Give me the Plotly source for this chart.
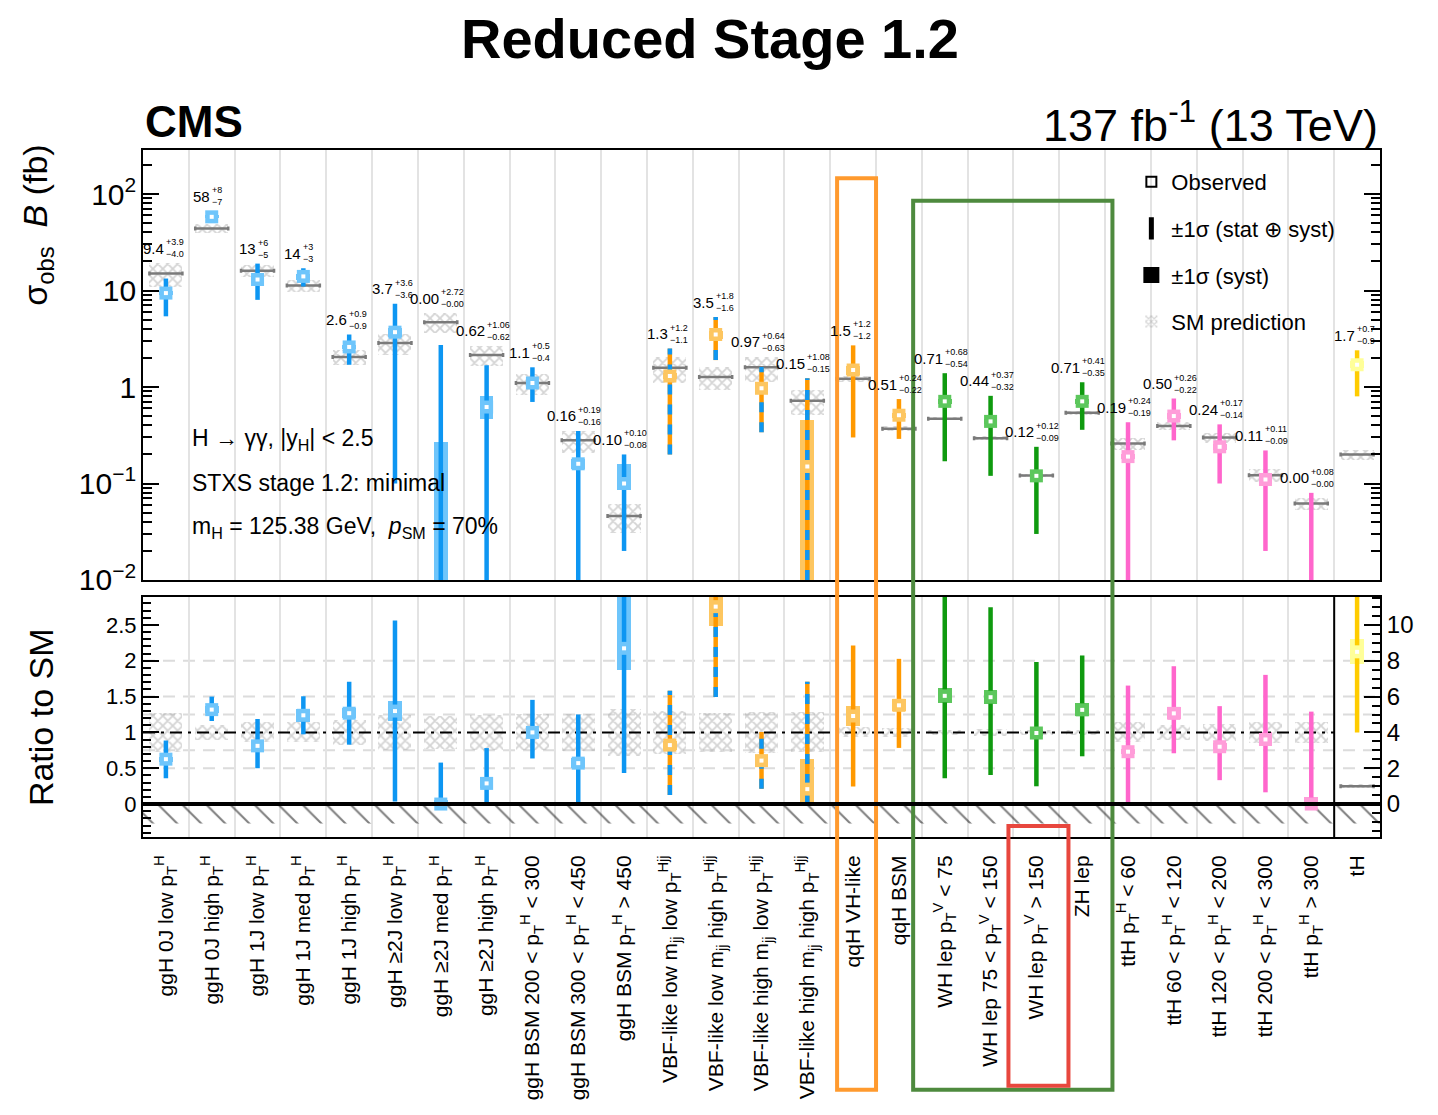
import numpy as np
import plotly.graph_objects as go

# ---------------------------------------------------------------- data
categories = [
    "ggH 0J low p<sub>T</sub><sup>H</sup>",
    "ggH 0J high p<sub>T</sub><sup>H</sup>",
    "ggH 1J low p<sub>T</sub><sup>H</sup>",
    "ggH 1J med p<sub>T</sub><sup>H</sup>",
    "ggH 1J high p<sub>T</sub><sup>H</sup>",
    "ggH ≥2J low p<sub>T</sub><sup>H</sup>",
    "ggH ≥2J med p<sub>T</sub><sup>H</sup>",
    "ggH ≥2J high p<sub>T</sub><sup>H</sup>",
    "ggH BSM 200 < p<sub>T</sub><sup>H</sup> < 300",
    "ggH BSM 300 < p<sub>T</sub><sup>H</sup> < 450",
    "ggH BSM p<sub>T</sub><sup>H</sup> > 450",
    "VBF-like low m<sub>jj</sub> low p<sub>T</sub><sup>Hjj</sup>",
    "VBF-like low m<sub>jj</sub> high p<sub>T</sub><sup>Hjj</sup>",
    "VBF-like high m<sub>jj</sub> low p<sub>T</sub><sup>Hjj</sup>",
    "VBF-like high m<sub>jj</sub> high p<sub>T</sub><sup>Hjj</sup>",
    "qqH VH-like",
    "qqH BSM",
    "WH lep p<sub>T</sub><sup>V</sup> < 75",
    "WH lep 75 < p<sub>T</sub><sup>V</sup> < 150",
    "WH lep p<sub>T</sub><sup>V</sup> > 150",
    "ZH lep",
    "ttH p<sub>T</sub><sup>H</sup> < 60",
    "ttH 60 < p<sub>T</sub><sup>H</sup> < 120",
    "ttH 120 < p<sub>T</sub><sup>H</sup> < 200",
    "ttH 200 < p<sub>T</sub><sup>H</sup> < 300",
    "ttH p<sub>T</sub><sup>H</sup> > 300",
    "tH",
]
process = ["ggH", "ggH", "ggH", "ggH", "ggH", "ggH", "ggH", "ggH", "ggH", "ggH", "ggH",
           "VBF", "VBF", "VBF", "VBF",
           "qqH", "qqH",
           "VH", "VH", "VH", "VH",
           "ttH", "ttH", "ttH", "ttH", "ttH",
           "tH"]

# observed sigma x B (fb) with total uncertainties, as quoted on the plot
obs_str = ["9.4", "58", "13", "14", "2.6", "3.7", "0.00", "0.62", "1.1", "0.16", "0.10",
           "1.3", "3.5", "0.97", "0.15", "1.5", "0.51", "0.71", "0.44", "0.12", "0.71",
           "0.19", "0.50", "0.24", "0.11", "0.00", "1.7"]
up_str = ["3.9", "8", "6", "3", "0.9", "3.6", "2.72", "1.06", "0.5", "0.19", "0.10",
          "1.2", "1.8", "0.64", "1.08", "1.2", "0.24", "0.68", "0.37", "0.12", "0.41",
          "0.24", "0.26", "0.17", "0.11", "0.08", "0.7"]
dn_str = ["4.0", "7", "5", "3", "0.9", "3.6", "0.00", "0.62", "0.4", "0.16", "0.08",
          "1.1", "1.6", "0.63", "0.15", "1.2", "0.22", "0.54", "0.32", "0.09", "0.35",
          "0.19", "0.22", "0.14", "0.09", "0.00", "0.9"]

# systematic component (fb)
syst_up = [0.5, 2.0, 1.0, 1.0, 0.15, 0.4, 0.27, 0.19, 0.05, 0.02, 0.06,
           0.1, 0.35, 0.08, 0.3, 0.17, 0.03, 0.05, 0.03, 0.005, 0.05,
           0.01, 0.033, 0.015, 0.012, 0.006, 0.14]
syst_dn = [0.5, 2.0, 1.0, 1.0, 0.15, 0.4, 0.0, 0.15, 0.05, 0.02, 0.014,
           0.1, 0.35, 0.08, 0.15, 0.17, 0.03, 0.05, 0.03, 0.005, 0.05,
           0.01, 0.033, 0.015, 0.012, 0.0, 0.14]

# SM prediction (fb) and its relative theory uncertainty
sm_pred = [15.0, 44.0, 16.0, 11.3, 2.05, 2.85, 4.7, 2.15, 1.1, 0.28, 0.046,
           1.58, 1.27, 1.6, 0.72, 1.22, 0.37, 0.47, 0.295, 0.121, 0.54,
           0.26, 0.395, 0.30, 0.122, 0.062, 0.20]
sm_rel_unc = [0.27, 0.10, 0.14, 0.14, 0.17, 0.24, 0.23, 0.24, 0.25, 0.26, 0.33,
              0.30, 0.27, 0.29, 0.28, 0.07, 0.06, 0.04, 0.05, 0.04, 0.04,
              0.14, 0.10, 0.12, 0.15, 0.15, 0.12]

# ---------------------------------------------------------------- derived
obs = np.array([float(s) for s in obs_str])
err_up = np.array([float(s) for s in up_str])
err_dn = np.array([float(s) for s in dn_str])
s_up = np.array(syst_up)
s_dn = np.array(syst_dn)
sm = np.array(sm_pred)
smu = np.array(sm_rel_unc)
n = len(categories)
xs = np.arange(n)

# ---------------------------------------------------------------- style
FONT = "Liberation Sans, Arial, Helvetica, sans-serif"
LOG_RANGE = [-2.0, 2.456]
RATIO_RANGE = [-0.46, 2.89]
TH_SCALE = 4.0          # tH ratio uses a 4x wider right-hand scale
FLOOR = 10 ** LOG_RANGE[0]
HATCH_DEPTH = 0.27

COLORS = {
    "ggH": ("#0d96f2", "#6ec5fb"),
    "VBF": ("#ff9900", "#fdc660"),
    "qqH": ("#ff9900", "#fdc660"),
    "VH": ("#0f9a0f", "#5cc75c"),
    "ttH": ("#ff66cc", "#ff9dd9"),
    "tH": ("#ffcc00", "#ffff99"),
}
VBF_DASH_COLOR = "#0d96f2"
SM_LINE = "#7a7a7a"
SM_HATCH = "#a9a9a9"
SM_PATTERN = dict(shape="x", fgcolor=SM_HATCH, size=7, solidity=0.45, fillmode="overlay")

fig = go.Figure()


def sm_boxes(idx, lo, hi, xa, ya):
    fig.add_trace(go.Bar(
        x=idx, y=hi - lo, base=lo, width=0.72, xaxis=xa, yaxis=ya,
        marker=dict(color="rgba(0,0,0,0)", line=dict(width=0), pattern=SM_PATTERN),
        showlegend=False, hoverinfo="skip"))


def sm_lines(idx, yv, xa, ya):
    fig.add_trace(go.Scatter(
        x=idx, y=yv, mode="markers", xaxis=xa, yaxis=ya,
        marker=dict(size=1, color="rgba(0,0,0,0)"),
        error_x=dict(type="constant", value=0.36, thickness=2.5, width=2, color=SM_LINE),
        showlegend=False, hoverinfo="skip"))


def points(idx, yv, lo, hi, slo, shi, xa, ya):
    idx = np.asarray(idx)
    light = [COLORS[process[i]][1] for i in idx]
    # systematic boxes
    fig.add_trace(go.Bar(
        x=idx, y=np.maximum(shi - slo, 0), base=slo, width=0.3, xaxis=xa, yaxis=ya,
        marker=dict(color=light, line=dict(width=0)),
        showlegend=False, hoverinfo="skip"))
    # total uncertainty lines, grouped by colour
    for proc in ["ggH", "VBF", "qqH", "VH", "ttH", "tH"]:
        sel = [k for k, i in enumerate(idx) if process[i] == proc]
        if not sel:
            continue
        lx, ly = [], []
        for k in sel:
            lx += [idx[k], idx[k], None]
            ly += [lo[k], hi[k], None]
        fig.add_trace(go.Scatter(
            x=lx, y=ly, mode="lines", xaxis=xa, yaxis=ya,
            line=dict(color=COLORS[proc][0], width=4.5),
            showlegend=False, hoverinfo="skip"))
        if proc == "VBF":
            fig.add_trace(go.Scatter(
                x=lx, y=ly, mode="lines", xaxis=xa, yaxis=ya,
                line=dict(color=VBF_DASH_COLOR, width=4.5, dash="10px,10px"),
                showlegend=False, hoverinfo="skip"))
    # observed markers
    fig.add_trace(go.Scatter(
        x=idx, y=yv, mode="markers", xaxis=xa, yaxis=ya,
        marker=dict(symbol="square", size=13, color=light, line=dict(width=0)),
        showlegend=False, hoverinfo="skip"))
    fig.add_trace(go.Scatter(
        x=idx, y=yv, mode="markers", xaxis=xa, yaxis=ya,
        marker=dict(symbol="square", size=4, color="white", line=dict(width=0)),
        showlegend=False, hoverinfo="skip"))


# ---------------------------------------------------------------- top panel
sm_boxes(xs, sm * (1 - smu), sm * (1 + smu), "x", "y")
sm_lines(xs, sm, "x", "y")
top_lo = np.maximum(obs - err_dn, FLOOR)
top_hi = obs + err_up
syst_lo = np.maximum(obs - s_dn, FLOOR)
syst_hi = np.maximum(obs + s_up, FLOOR)
points(xs, obs, top_lo, top_hi, syst_lo, syst_hi, "x", "y")

# ---------------------------------------------------------------- ratio panel
ratio = obs / sm
r_lo = (obs - err_dn) / sm
r_hi = (obs + err_up) / sm
rs_lo = (obs - s_dn) / sm
rs_hi = (obs + s_up) / sm
main = np.array([i for i in xs if process[i] != "tH"])
th = np.array([i for i in xs if process[i] == "tH"])

# hatched unphysical region below zero
fig.add_trace(go.Scatter(
    x=[-0.5, n - 0.5, n - 0.5, -0.5, -0.5], y=[0, 0, -HATCH_DEPTH, -HATCH_DEPTH, 0],
    mode="lines", fill="toself", line=dict(width=0), xaxis="x2", yaxis="y2",
    fillcolor="rgba(0,0,0,0)",
    fillpattern=dict(shape="\\", fgcolor="black", bgcolor="rgba(0,0,0,0)", size=17,
                     solidity=0.12, fillmode="overlay"),
    showlegend=False, hoverinfo="skip"))

sm_boxes(main, 1 - smu[main], 1 + smu[main], "x2", "y2")
fig.add_trace(go.Scatter(
    x=[-0.5, main[-1] + 0.5], y=[1, 1], mode="lines", xaxis="x2", yaxis="y2",
    line=dict(color="black", width=2, dash="12px,6px,3px,6px"),
    showlegend=False, hoverinfo="skip"))
points(main, ratio[main], r_lo[main], r_hi[main], rs_lo[main], rs_hi[main], "x2", "y2")

sm_boxes(th, 1 - smu[th], 1 + smu[th], "x2", "y3")
sm_lines(th, np.ones(len(th)), "x2", "y3")
points(th, ratio[th], r_lo[th], r_hi[th], rs_lo[th], rs_hi[th], "x2", "y3")

# ---------------------------------------------------------------- legend entries
fig.add_trace(go.Scatter(x=[None], y=[None], mode="markers", name="Observed",
                         legendgroup="a", legendrank=1,
                         marker=dict(symbol="square-open", size=10, color="black",
                                     line=dict(width=2, color="black"))))
fig.add_trace(go.Scatter(x=[None], y=[None], mode="markers", name="±1σ (stat ⊕ syst)",
                         legendgroup="b", legendrank=2,
                         marker=dict(symbol="line-ns", size=30, color="black",
                                     line=dict(width=5, color="black"))))
fig.add_trace(go.Scatter(x=[None], y=[None], mode="markers", name="±1σ (syst)",
                         legendgroup="c", legendrank=3,
                         marker=dict(symbol="square", size=22, color="black")))
fig.add_trace(go.Bar(x=[None], y=[None], name="SM prediction",
                     legendgroup="d", legendrank=4,
                     marker=dict(color="rgba(0,0,0,0)", line=dict(width=0),
                                 pattern=dict(shape="x", fgcolor=SM_HATCH, size=5,
                                              solidity=0.5, fillmode="overlay"))))

# ---------------------------------------------------------------- value labels
ann = []
for i in xs:
    top = max(obs[i] + err_up[i], sm[i] * (1 + smu[i]))
    yl = np.log10(top)
    ann.append(dict(x=i, y=yl, xref="x", yref="y", text=obs_str[i], showarrow=False,
                    xanchor="right", yanchor="middle", yshift=15,
                    font=dict(size=15, color="black", family=FONT)))
    ann.append(dict(x=i, y=yl, xref="x", yref="y", text="+" + up_str[i], showarrow=False,
                    xanchor="left", yanchor="middle", yshift=21, xshift=-2,
                    font=dict(size=9, color="black", family=FONT)))
    ann.append(dict(x=i, y=yl, xref="x", yref="y", text="−" + dn_str[i], showarrow=False,
                    xanchor="left", yanchor="middle", yshift=9, xshift=-2,
                    font=dict(size=9, color="black", family=FONT)))

# ---------------------------------------------------------------- text
ann += [
    dict(x=0.458, y=1.163, xref="paper", yref="paper", text="<b>Reduced Stage 1.2</b>",
         showarrow=False, xanchor="center", yanchor="middle",
         font=dict(size=56, color="black", family=FONT)),
    dict(x=0.0, y=1.041, xref="paper", yref="paper", text="<b>CMS</b>",
         showarrow=False, xanchor="left", yanchor="middle",
         font=dict(size=44, color="black", family=FONT)),
    dict(x=1.0, y=1.041, xref="paper", yref="paper", text="137 fb<sup>-1</sup> (13 TeV)",
         showarrow=False, xanchor="right", yanchor="middle",
         font=dict(size=45, color="black", family=FONT)),
    dict(x=-0.085, y=0.891, xref="paper", yref="paper",
         text="σ<sub>obs</sub>  <i>B</i> (fb)", textangle=-90,
         showarrow=False, xanchor="center", yanchor="middle",
         font=dict(size=34, color="black", family=FONT)),
    dict(x=-0.083, y=0.175, xref="paper", yref="paper", text="Ratio to SM", textangle=-90,
         showarrow=False, xanchor="center", yanchor="middle",
         font=dict(size=34, color="black", family=FONT)),
    dict(x=0.038, y=0.578, xref="paper", yref="paper",
         text="H → γγ, |y<sub>H</sub>| < 2.5",
         showarrow=False, xanchor="left", yanchor="middle",
         font=dict(size=23, color="black", family=FONT)),
    dict(x=0.038, y=0.515, xref="paper", yref="paper", text="STXS stage 1.2: minimal",
         showarrow=False, xanchor="left", yanchor="middle",
         font=dict(size=23, color="black", family=FONT)),
    dict(x=0.038, y=0.451, xref="paper", yref="paper",
         text="m<sub>H</sub> = 125.38 GeV,  <i>p</i><sub>SM</sub> = 70%",
         showarrow=False, xanchor="left", yanchor="middle",
         font=dict(size=23, color="black", family=FONT)),
]

# ---------------------------------------------------------------- highlight frames
i_vh = categories.index("qqH VH-like")
i_wh0 = categories.index("WH lep p<sub>T</sub><sup>V</sup> < 75")
i_zh = categories.index("ZH lep")
i_wh2 = categories.index("WH lep p<sub>T</sub><sup>V</sup> > 150")
shapes = [
    dict(type="rect", xref="x", yref="paper", x0=i_vh - 0.35, x1=i_vh + 0.5,
         y0=-0.368, y1=0.959, line=dict(color="#ff9a2e", width=4), layer="above"),
    dict(type="rect", xref="x", yref="paper", x0=i_wh0 - 0.69, x1=i_zh + 0.66,
         y0=-0.368, y1=0.926, line=dict(color="#4e8a3e", width=4), layer="above"),
    dict(type="rect", xref="x", yref="paper", x0=i_wh2 - 0.61, x1=i_wh2 + 0.7,
         y0=-0.362, y1=0.016, line=dict(color="#e8473e", width=4), layer="above"),
    # zero line of the ratio panel
    dict(type="line", xref="x2 domain", yref="y2", x0=0, x1=1, y0=0, y1=0,
         line=dict(color="black", width=4), layer="above"),
    # separator for the tH ratio scale
    dict(type="line", xref="x2", yref="y2 domain", x0=th[0] - 0.5, x1=th[0] - 0.5,
         y0=0, y1=1, line=dict(color="black", width=2), layer="above"),
]
for g in [0.5, 0.75, 1.25, 1.5, 2.0]:
    shapes.append(dict(type="line", xref="x2 domain", yref="y2", x0=0, x1=1, y0=g, y1=g,
                       line=dict(color="#dcdcdc", width=2, dash="12px,8px"), layer="below"))

# ---------------------------------------------------------------- layout
xgrid = dict(tickmode="array", tickvals=[k + 0.5 for k in range(n - 1)], showgrid=True,
             gridcolor="#e3e3e3", gridwidth=2, ticks="")
fig.update_layout(
    width=1438, height=1115,
    margin=dict(l=143, r=58, t=150, b=278, autoexpand=False),
    paper_bgcolor="white", plot_bgcolor="white",
    font=dict(family=FONT, color="black"),
    barmode="overlay", bargap=0,
    showlegend=True,
    legend=dict(x=0.799, y=0.984, xanchor="left", yanchor="top",
                font=dict(size=22, family=FONT, color="black"),
                bgcolor="rgba(0,0,0,0)", tracegroupgap=15, traceorder="grouped",
                itemwidth=30),
    annotations=ann,
    shapes=shapes,
    xaxis=dict(domain=[0, 1], anchor="y", range=[-0.5, n - 0.5], showticklabels=False,
               showline=True, linecolor="black", linewidth=2, mirror=True,
               showgrid=False, zeroline=False, ticks="", minor=xgrid,
               tickvals=list(xs)),
    yaxis=dict(domain=[0.3741, 1.0], anchor="x", type="log", range=LOG_RANGE,
               tickmode="linear", tick0=0, dtick=1, exponentformat="power",
               ticks="inside", ticklen=16, tickwidth=2, tickcolor="black",
               minor=dict(ticks="inside", ticklen=9, tickwidth=1.5, tickcolor="black",
                          showgrid=False),
               showline=True, linecolor="black", linewidth=2, mirror="ticks",
               showgrid=False, zeroline=False, automargin=False,
               tickfont=dict(size=24, family=FONT, color="black")),
    xaxis2=dict(domain=[0, 1], anchor="y2", range=[-0.5, n - 0.5], matches="x",
                tickmode="array", tickvals=list(xs), ticktext=categories, tickangle=-90,
                tickfont=dict(size=21, family=FONT, color="black"),
                ticklabelstandoff=8,
                showline=True, linecolor="black", linewidth=2, mirror=True,
                showgrid=False, zeroline=False, ticks="", minor=xgrid, automargin=False),
    yaxis2=dict(domain=[0.0, 0.3493], anchor="x2", range=RATIO_RANGE,
                tickmode="array", tickvals=[0, 0.5, 1, 1.5, 2, 2.5],
                ticktext=["0", "0.5", "1", "1.5", "2", "2.5"],
                ticks="inside", ticklen=16, tickwidth=2, tickcolor="black",
                minor=dict(tickmode="linear", tick0=0, dtick=0.1, ticks="inside",
                           ticklen=8, tickwidth=1.5, tickcolor="black", showgrid=False),
                showline=True, linecolor="black", linewidth=2, mirror=False,
                showgrid=False, zeroline=False, automargin=False,
                tickfont=dict(size=22, family=FONT, color="black")),
    yaxis3=dict(anchor="x2", overlaying="y2", side="right",
                range=[RATIO_RANGE[0] * TH_SCALE, RATIO_RANGE[1] * TH_SCALE],
                tickmode="linear", tick0=0, dtick=2,
                ticks="inside", ticklen=16, tickwidth=2, tickcolor="black",
                minor=dict(tickmode="linear", tick0=0, dtick=0.5, ticks="inside",
                           ticklen=8, tickwidth=1.5, tickcolor="black", showgrid=False),
                showline=True, linecolor="black", linewidth=2,
                showgrid=False, zeroline=False, automargin=False,
                tickfont=dict(size=24, family=FONT, color="black")),
)

fig.write_html("out.html")
